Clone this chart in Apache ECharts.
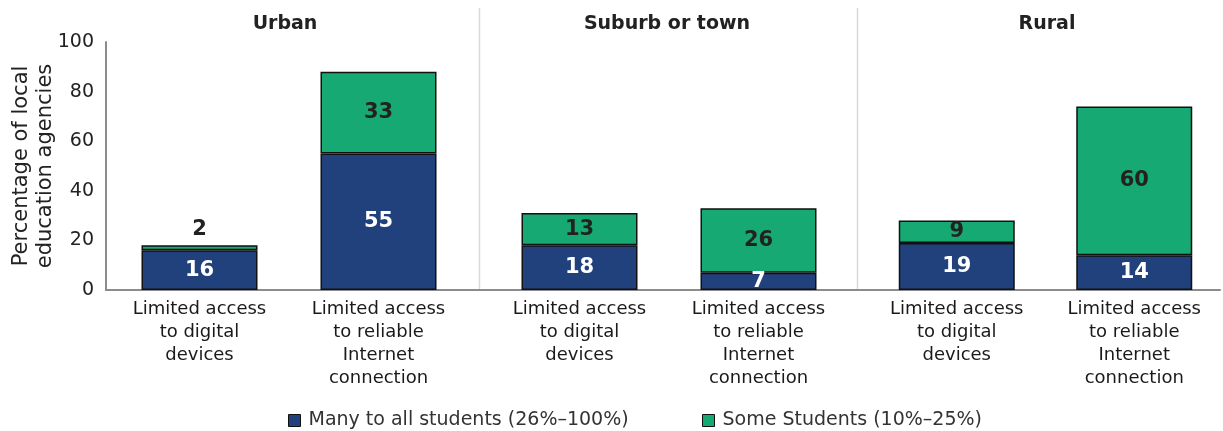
<!DOCTYPE html>
<html>
<head>
<meta charset="utf-8">
<script src="https://cdn.jsdelivr.net/npm/echarts@6/dist/echarts.min.js"></script>
<style>
  html, body { margin: 0; padding: 0; background: #fff; }
  #chart { width: 1223px; height: 431px; }
</style>
</head>
<body>
<div id="chart"></div>
<script>
// data
const panels = ['Urban', 'Suburb or town', 'Rural'];
const categories = ['Limited access\nto digital\ndevices', 'Limited access\nto reliable\nInternet\nconnection'];
const manyToAll = [16, 55, 18, 7, 19, 14];
const someStudents = [2, 33, 13, 26, 9, 60];
const seriesNames = ['Many to all students (26%–100%)', 'Some Students (10%–25%)'];

// layout
const FONT = 'DejaVu Sans';
const BLUE = '#20417c';
const GREEN = '#17a974';
const panelLeft = [110, 490, 868];
const panelWidth = [358, 358, 355];
const titleX = [285, 667, 1047];
const gridTop = 42, gridBottom = 141;

const grids = [{ left: 106, right: 3, top: gridTop, bottom: gridBottom, outerBoundsMode: 'none', containLabel: false }];
const xAxes = [{
  gridIndex: 0, type: 'value', min: 0, max: 1,
  axisLine: { show: true, lineStyle: { color: '#8c8c8c', width: 2 } },
  axisTick: { show: false }, axisLabel: { show: false }, splitLine: { show: false }
}];
const yAxes = [{
  gridIndex: 0, type: 'value', min: 0, max: 100, interval: 20,
  name: 'Percentage of local\neducation agencies',
  nameLocation: 'middle', nameRotate: 90, nameGap: 48, nameMoveOverlap: false,
  nameTextStyle: { fontFamily: FONT, fontSize: 21, color: '#222', lineHeight: 24 },
  axisLine: { show: true, lineStyle: { color: '#8c8c8c', width: 2 } },
  axisTick: { show: false }, splitLine: { show: false },
  axisLabel: { fontFamily: FONT, fontSize: 19, color: '#222', margin: 12 }
}];
const series = [];

panels.forEach((p, i) => {
  const g = i + 1;
  grids.push({ left: panelLeft[i], width: panelWidth[i], top: gridTop, bottom: gridBottom, outerBoundsMode: 'none', containLabel: false });
  xAxes.push({
    gridIndex: g, type: 'category', data: categories,
    axisLine: { show: false }, axisTick: { show: false },
    axisLabel: { interval: 0, fontFamily: FONT, fontSize: 18, color: '#1a1a1a', lineHeight: 23, margin: 8 }
  });
  yAxes.push({ gridIndex: g, type: 'value', min: 0, max: 100, show: false });

  const many = manyToAll.slice(i * 2, i * 2 + 2);
  const some = someStudents.slice(i * 2, i * 2 + 2).map(v =>
    v < 5 ? { value: v, label: { position: 'top' } } : v);

  series.push({
    name: seriesNames[0], type: 'bar', stack: 'p' + g,
    xAxisIndex: g, yAxisIndex: g, barWidth: 116, data: many,
    itemStyle: { color: BLUE, borderColor: '#111', borderWidth: 1.5 },
    label: { show: true, position: 'inside', fontFamily: FONT, fontSize: 21, fontWeight: 'bold', color: '#fff' }
  });
  series.push({
    name: seriesNames[1], type: 'bar', stack: 'p' + g,
    xAxisIndex: g, yAxisIndex: g, barWidth: 116, data: some,
    itemStyle: { color: GREEN, borderColor: '#111', borderWidth: 1.5 },
    label: { show: true, position: 'inside', fontFamily: FONT, fontSize: 21, fontWeight: 'bold', color: '#222' }
  });
});

const graphic = [];
[479.5, 857.5].forEach(x => graphic.push({
  type: 'line', silent: true, z: -1,
  shape: { x1: x, y1: 8, x2: x, y2: 289 },
  style: { stroke: '#d9d9d9', lineWidth: 1.5 }
}));
panels.forEach((p, i) => graphic.push({
  type: 'text', x: titleX[i], y: 24,
  style: { text: p, font: 'bold 19px "' + FONT + '"', fill: '#222', textAlign: 'center', textVerticalAlign: 'middle' }
}));

const legendBase = {
  top: 406, itemWidth: 12, itemHeight: 12, icon: 'rect', itemGap: 30,
  textStyle: { fontFamily: FONT, fontSize: 19, color: '#333', padding: [0, 0, 0, 3] }
};

const chart = echarts.init(document.getElementById('chart'));
chart.setOption({
  animation: false,
  grid: grids,
  xAxis: xAxes,
  yAxis: yAxes,
  legend: [
    Object.assign({ left: 283, data: [{ name: seriesNames[0], itemStyle: { borderColor: '#111', borderWidth: 1 } }] }, legendBase),
    Object.assign({ left: 697, data: [{ name: seriesNames[1], itemStyle: { borderColor: '#111', borderWidth: 1 } }] }, legendBase)
  ],
  graphic: graphic,
  series: series
});
</script>
</body>
</html>
